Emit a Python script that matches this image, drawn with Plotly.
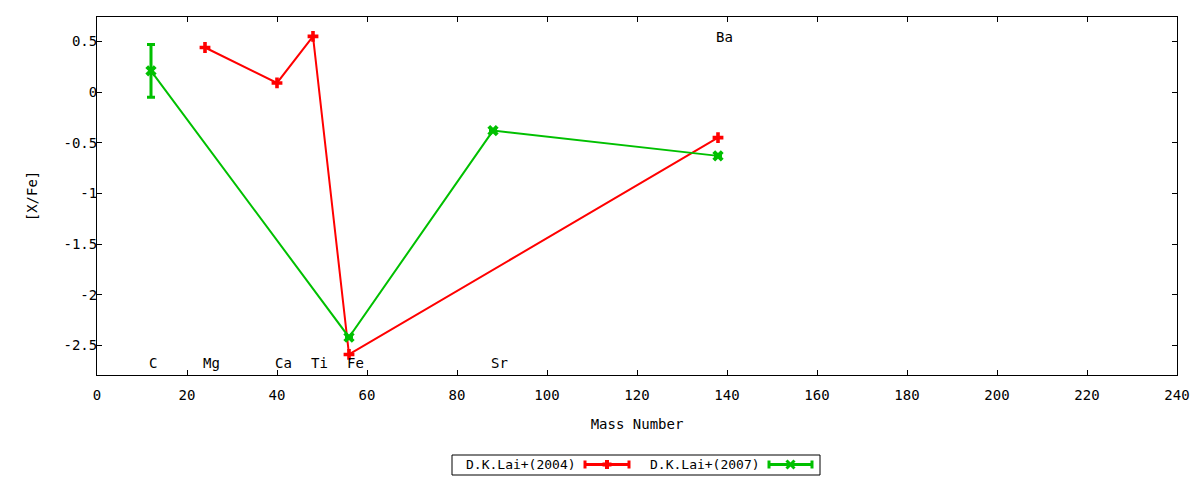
import plotly.graph_objects as go

# ---- data ----
elements_2004 = ["Mg", "Ca", "Ti", "Fe", "Ba"]
mass_2004 = [24, 40, 48, 56, 138]
xfe_2004 = [0.44, 0.09, 0.55, -2.59, -0.45]

elements_2007 = ["C", "Fe", "Sr", "Ba"]
mass_2007 = [12, 56, 88, 138]
xfe_2007 = [0.21, -2.42, -0.38, -0.63]
err_2007 = [0.26, 0.0, 0.0, 0.0]

label_names = ["C", "Mg", "Ca", "Ti", "Fe", "Sr", "Ba"]
label_mass = [12, 24, 40, 48, 56, 88, 138]
label_y = [-2.67, -2.67, -2.67, -2.67, -2.67, -2.67, 0.545]

x_ticks = [0, 20, 40, 60, 80, 100, 120, 140, 160, 180, 200, 220, 240]
y_ticks = [0.5, 0, -0.5, -1, -1.5, -2, -2.5]
y_ticktext = ["0.5", "0", "-0.5", "-1", "-1.5", "-2", "-2.5"]

series_names = ["D.K.Lai+(2004)", "D.K.Lai+(2007)"]

RED = "#ff0000"
GREEN = "#00c000"
FONT = "DejaVu Sans Mono"
FS = 14

# page offset of the plot div (browser body margin)
OFF = 8
FIG_W, FIG_H = 1192, 472
# target plot area in window pixels
PL, PR, PT, PB = 97, 1177, 17, 375

fig = go.Figure()

fig.add_trace(go.Scatter(
    x=mass_2004, y=xfe_2004, mode="lines+markers", name=series_names[0],
    line=dict(color=RED, width=2),
    marker=dict(symbol="cross", size=9, color=RED),
    showlegend=False,
))
fig.add_trace(go.Scatter(
    x=mass_2007, y=xfe_2007, mode="lines+markers", name=series_names[1],
    line=dict(color=GREEN, width=2),
    marker=dict(symbol="x", size=10, color=GREEN),
    error_y=dict(type="data", array=err_2007, color=GREEN, thickness=3, width=4),
    showlegend=False,
))

# element labels
for name, m, yv in zip(label_names, label_mass, label_y):
    fig.add_annotation(x=m, y=yv, text=name, showarrow=False, xanchor="left",
                       xshift=-4, yanchor="middle",
                       font=dict(family=FONT, size=FS, color="black"))

# ---- custom legend (text left, sample right, like gnuplot) ----
W = float(PR - PL); H = float(PB - PT)
def px(xp):
    return (xp - PL) / W
def py(yp):
    return (PB - yp) / H

fig.add_shape(type="rect", xref="paper", yref="paper",
              x0=px(452), x1=px(820), y0=py(475), y1=py(455),
              line=dict(color="black", width=1), fillcolor="rgba(0,0,0,0)")

legend_items = [
    (series_names[0], RED, 464, 585, 629, 607, "plus"),
    (series_names[1], GREEN, 648, 769, 812, 790.5, "x"),
]
LY = 464.5
ly = py(LY)
for text, col, tx, sx0, sx1, mx, sym in legend_items:
    fig.add_annotation(xref="paper", yref="paper", x=px(tx), y=ly, text=text,
                       showarrow=False, xanchor="left", yanchor="middle",
                       font=dict(family=FONT, size=13, color="black"))
    fig.add_shape(type="line", xref="paper", yref="paper",
                  x0=px(sx0), x1=px(sx1), y0=ly, y1=ly,
                  line=dict(color=col, width=3))
    for cx in (sx0, sx1):
        fig.add_shape(type="line", xref="paper", yref="paper",
                      x0=px(cx), x1=px(cx), y0=py(LY - 4), y1=py(LY + 4),
                      line=dict(color=col, width=3))
    if sym == "plus":
        fig.add_shape(type="line", xref="paper", yref="paper",
                      x0=px(mx), x1=px(mx), y0=py(LY - 4.5), y1=py(LY + 4.5),
                      line=dict(color=col, width=4))
        fig.add_shape(type="line", xref="paper", yref="paper",
                      x0=px(mx - 4.5), x1=px(mx + 4.5), y0=ly, y1=ly,
                      line=dict(color=col, width=4))
    else:
        for dy in (-1, 1):
            fig.add_shape(type="line", xref="paper", yref="paper",
                          x0=px(mx - 4), x1=px(mx + 4),
                          y0=py(LY - 4 * dy), y1=py(LY + 4 * dy),
                          line=dict(color=col, width=3))

axis_common = dict(
    showgrid=False, zeroline=False, showline=True, linecolor="black",
    linewidth=1, mirror="ticks", ticks="inside", ticklen=5, tickcolor="black",
    tickfont=dict(family=FONT, size=FS, color="black"),
)

fig.update_layout(
    width=FIG_W, height=FIG_H,
    margin=dict(l=PL - OFF, r=FIG_W - (PR - OFF), t=PT - OFF,
                b=FIG_H - (PB - OFF)),
    paper_bgcolor="white", plot_bgcolor="white",
    font=dict(family=FONT, size=FS, color="black"),
    xaxis=dict(range=[0, 240], tickvals=x_ticks, ticklabelstandoff=7,
               title=dict(text="Mass Number", standoff=17,
                          font=dict(family=FONT, size=FS)),
               **axis_common),
    yaxis=dict(range=[-2.793, 0.741], tickvals=y_ticks, ticktext=y_ticktext,
               ticklabelstandoff=-4,
               title=dict(text="[X/Fe]", standoff=22,
                          font=dict(family=FONT, size=FS)),
               **axis_common),
)

fig.write_html("out.html")
